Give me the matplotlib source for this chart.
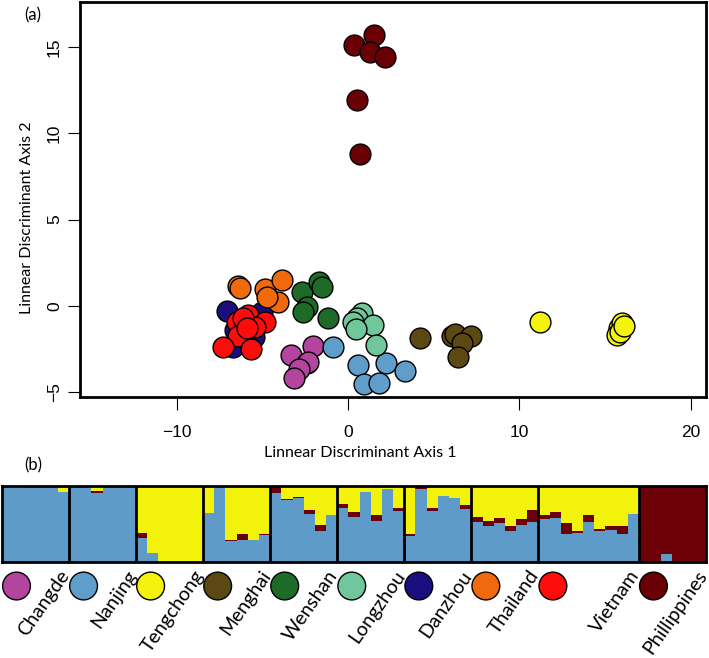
import numpy as np
import matplotlib
matplotlib.use("Agg")
import matplotlib.pyplot as plt
import matplotlib.transforms as mtrans

# ---------------- data ----------------
populations = ["Changde", "Nanjing", "Tengchong", "Menghai", "Wenshan",
               "Longzhou", "Danzhou", "Thailand", "Vietnam", "Phillippines"]
pop_colors = ["#b3459e", "#5f9dcb", "#f3f30c", "#5c4813", "#1e6b28",
              "#6fc79b", "#1b0f80", "#f0690d", "#fe0c0c", "#6a0006"]

# LDA scores (axis 1, axis 2) per population
lda_x = {
    "Changde":      [-2.04, -3.33, -2.40, -2.34, -2.86, -3.15],
    "Nanjing":      [-0.88, 0.58, 2.20, 3.33, 0.93, 1.80],
    "Tengchong":    [11.2, 15.8, 15.7, 16.0, 15.9, 16.1],
    "Menghai":      [4.2, 6.07, 6.25, 7.2, 6.65, 6.4],
    "Wenshan":      [-2.7, -1.7, -1.52, -2.4, -2.63, -1.17],
    "Longzhou":     [0.8, 0.5, 0.3, 1.45, 0.47, 1.63],
    "Danzhou":      [-7.06, -5.0, -6.7, -6.6, -6.0, -5.5],
    "Thailand":     [-6.4, -6.3, -4.85, -3.85, -4.1, -4.73],
    "Vietnam":      [-6.48, -5.84, -4.85, -5.43, -6.42, -7.3, -5.66, -6.1, -5.9],
    "Phillippines": [0.35, 1.52, 1.28, 2.16, 0.53, 0.70],
}
lda_y = {
    "Changde":      [-2.3, -2.84, -3.3, -3.24, -3.65, -4.17],
    "Nanjing":      [-2.38, -3.42, -3.3, -3.77, -4.52, -4.46],
    "Tengchong":    [-0.93, -1.3, -1.7, -1.0, -1.5, -1.15],
    "Menghai":      [-1.85, -1.74, -1.62, -1.74, -2.14, -2.95],
    "Wenshan":      [0.8, 1.4, 1.1, -0.06, -0.35, -0.7],
    "Longzhou":     [-0.4, -0.7, -0.93, -1.1, -1.33, -2.26],
    "Danzhou":      [-0.29, -0.35, -2.38, -1.4, -1.0, -1.8],
    "Thailand":     [1.16, 1.04, 0.98, 1.5, 0.23, 0.52],
    "Vietnam":      [-0.93, -0.52, -0.93, -1.2, -1.74, -2.38, -2.5, -0.7, -1.3],
    "Phillippines": [15.1, 15.7, 14.7, 14.4, 11.9, 8.8],
}

# STRUCTURE membership (blue cluster, dark-red cluster); yellow = remainder
q_blue = {
    "Changde":      [1.0, 0.97, 1.0, 1.0, 1.0, 0.92],
    "Nanjing":      [1.0, 1.0, 0.91, 1.0, 1.0, 0.99],
    "Tengchong":    [0.31, 0.12, 0.0, 0.0, 0.0, 0.0],
    "Menghai":      [0.64, 1.0, 0.27, 0.295, 0.295, 0.357],
    "Wenshan":      [0.91, 0.815, 0.837, 0.626, 0.405, 0.612],
    "Longzhou":     [0.714, 0.586, 0.92, 0.537, 0.956, 0.665],
    "Danzhou":      [0.34, 0.965, 0.67, 0.868, 0.837, 0.70],
    "Thailand":     [0.529, 0.471, 0.507, 0.405, 0.485, 0.529],
    "Vietnam":      [0.56, 0.577, 0.366, 0.388, 0.524, 0.41, 0.423, 0.366, 0.63],
    "Phillippines": [0.0, 0.0, 0.11, 0.0, 0.0, 0.0],
}
q_red = {
    "Changde":      [0.0, 0.0, 0.0, 0.0, 0.0, 0.0],
    "Nanjing":      [0.0, 0.0, 0.03, 0.0, 0.0, 0.0],
    "Tengchong":    [0.075, 0.0, 0.0, 0.0, 0.0, 0.0],
    "Menghai":      [0.0, 0.0, 0.02, 0.075, 0.0, 0.018],
    "Wenshan":      [0.09, 0.01, 0.022, 0.062, 0.088, 0.0],
    "Longzhou":     [0.044, 0.07, 0.0, 0.075, 0.0, 0.04],
    "Danzhou":      [0.03, 0.035, 0.035, 0.0, 0.01, 0.044],
    "Thailand":     [0.062, 0.066, 0.066, 0.066, 0.075, 0.154],
    "Vietnam":      [0.053, 0.075, 0.15, 0.018, 0.088, 0.018, 0.057, 0.106, 0.0],
    "Phillippines": [1.0, 1.0, 0.89, 1.0, 1.0, 1.0],
}
k_blue, k_red, k_yellow = "#5f9bc8", "#6b0008", "#f2f20a"

x_ticks = [-10, 0, 10, 20]
y_ticks = [-5, 0, 5, 10, 15]

# ---------------- figure ----------------
W, H = 709, 658
fig = plt.figure(figsize=(W / 100, H / 100), dpi=100)

def px_axes(x0, y0, x1, y1):
    return fig.add_axes([x0 / W, 1 - y1 / H, (x1 - x0) / W, (y1 - y0) / H])

label_font = "Lato"
tick_font = "Liberation Sans"

# (a) scatter
ax = px_axes(80, 2, 706, 397)
for p, c in zip(populations, pop_colors):
    ax.scatter(lda_x[p], lda_y[p], s=225, c=c, edgecolors="black",
               linewidths=1.0, zorder=3)
ax.set_xlim(-15.64, 20.9)
ax.set_ylim(-5.27, 17.6)
ax.set_xticks(x_ticks)
ax.set_yticks(y_ticks)
ax.set_xticklabels(["\u2212" + str(-t) if t < 0 else str(t) for t in x_ticks],
                   fontfamily=tick_font, fontsize=12.5)
ax.set_yticklabels(["\u2212" + str(-t) if t < 0 else str(t) for t in y_ticks],
                   fontfamily=tick_font, fontsize=12.5, rotation=90, va="center")
ax.tick_params(axis="x", direction="out", length=9, width=0.8, pad=11)
ax.tick_params(axis="y", direction="out", length=9, width=0.8, pad=4)
for s in ax.spines.values():
    s.set_linewidth(2.0)
fig.text(360 / W, 1 - 453 / H, "Linnear Discriminant Axis 1", ha="center",
         va="center", fontfamily=label_font, fontsize=11.5)
fig.text(27 / W, 1 - 218 / H, "Linnear Discriminant Axis 2", ha="center",
         va="center", rotation=90, fontfamily=label_font, fontsize=11.5)
fig.text(33 / W, 1 - 15 / H, "(a)", ha="center", va="center",
         fontfamily=label_font, fontsize=12)
fig.text(33 / W, 1 - 465 / H, "(b)", ha="center", va="center",
         fontfamily=label_font, fontsize=12)

# (b) structure bar plot
bx = px_axes(2, 486, 706, 562)
counts = [len(q_blue[p]) for p in populations]
blue_all = np.concatenate([q_blue[p] for p in populations])
red_all = np.concatenate([q_red[p] for p in populations])
yel_all = 1.0 - blue_all - red_all
idx = np.arange(len(blue_all)) + 0.5
bx.bar(idx, blue_all, width=1.0, color=k_blue, edgecolor="none")
bx.bar(idx, red_all, width=1.0, bottom=blue_all, color=k_red, edgecolor="none")
bx.bar(idx, yel_all, width=1.0, bottom=blue_all + red_all, color=k_yellow,
       edgecolor="none")
bx.set_xlim(0, len(blue_all))
bx.set_ylim(0, 1)
bx.set_xticks([])
bx.set_yticks([])
for s in bx.spines.values():
    s.set_linewidth(2.0)
ends = np.cumsum(counts)
starts = ends - np.array(counts)
for e in ends[:-1]:
    bx.axvline(e, color="black", lw=2.0)

trans = mtrans.blended_transform_factory(bx.transData, bx.transAxes)
bx.scatter(starts + 1.3, [-0.316] * len(starts), s=400, c=pop_colors,
           edgecolors="black", linewidths=1.0, transform=trans, clip_on=False)
for p, e in zip(populations, ends):
    bx.text(e - 0.9, -0.07, p, transform=trans, rotation=55,
            rotation_mode="anchor", ha="right", va="top",
            fontfamily=label_font, fontsize=14)

fig.savefig("out.png", dpi=100)
